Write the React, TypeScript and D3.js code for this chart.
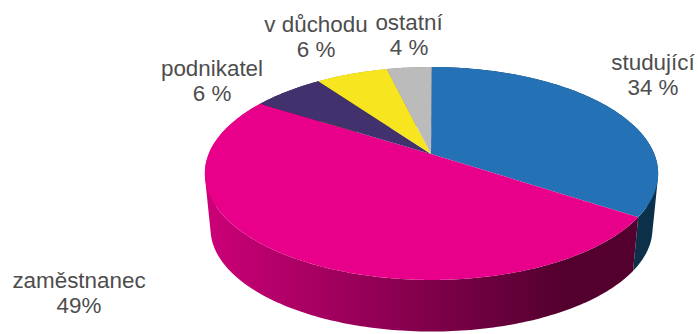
import React from "react";
import * as d3 from "d3";

const categories = ["studující", "zaměstnanec", "podnikatel", "v důchodu", "ostatní"];
const shares = [34.3, 49.7, 6.1, 6.1, 3.8];
const shareLabels = ["34 %", "49%", "6 %", "6 %", "4 %"];
const topColors = ["#2472b5", "#e8008a", "#41326e", "#f7e61f", "#bbbbbb"];
const wallLeftColors = ["#1a4f78", "#cc0078", "#2c2250", "#a89c10", "#808080"];
const wallRightColors = ["#0c2f4a", "#54002f", "#2c2250", "#a89c10", "#808080"];
const labelCentersX = [653, 79, 212, 316, 409];
const labelBaselinesY = [70, 288, 76, 32, 30];

const W = 698, H = 334;
const apex = { x: 431, y: 154 };
const k = -0.183, a = 102.9, b = 222.8;
const wallScaleX = 0.975, wallScaleY = 0.965;
const wallApexY = 210;

function project(angle: number, sx: number, sy: number, ay: number): [number, number] {
  const u = Math.sin(angle), v = -Math.cos(angle);
  const d = 1 + k * v;
  return [apex.x + 0.5 + (sx * b * u) / d, ay + (sy * a * v) / d];
}

export default function App() {
  const pie = d3.pie<number>().sort(null).startAngle(0).endAngle(2 * Math.PI);
  const arcs = pie(shares);
  const line = d3.line<[number, number]>();
  const step = Math.PI / 180;

  const walls = arcs.map((s) => {
    const angles = [...d3.range(s.startAngle, s.endAngle, step), s.endAngle];
    return d3.pairs(angles).map(([t0, t1]) => {
      const quad: [number, number][] = [
        project(t0, 1, 1, apex.y),
        project(t1, 1, 1, apex.y),
        project(t1, wallScaleX, wallScaleY, wallApexY),
        project(t0, wallScaleX, wallScaleY, wallApexY),
      ];
      if (d3.polygonArea(quad) < 0) quad.reverse();
      return line(quad)! + "Z";
    }).join("");
  });

  const faces = arcs.map((s) => {
    const angles = [...d3.range(s.startAngle, s.endAngle, step / 2), s.endAngle];
    return line([[apex.x, apex.y], ...angles.map((t) => project(t, 1, 1, apex.y))])! + "Z";
  });

  return (
    <svg width={W} height={H} viewBox={`0 0 ${W} ${H}`}
      style={{ position: "absolute", left: 0, top: 0, background: "#fff" }}>
      <defs>
        {categories.map((c, i) => (
          <linearGradient key={c} id={`wall-${i}`} gradientUnits="userSpaceOnUse" x1={205} x2={560} y1={0} y2={0}>
            <stop offset="0" stopColor={wallLeftColors[i]} />
            <stop offset="1" stopColor={wallRightColors[i]} />
          </linearGradient>
        ))}
      </defs>
      <g>
        {walls.map((d, i) => (
          <path key={categories[i]} d={d} fill={`url(#wall-${i})`} />
        ))}
      </g>
      <g>
        {faces.map((d, i) => (
          <path key={categories[i]} d={d} fill={topColors[i]} />
        ))}
      </g>
      <g fontFamily="'Liberation Sans', Arial, sans-serif" fontSize={22.4} fill="#4d4d4d" textAnchor="middle">
        {categories.map((c, i) => (
          <text key={c} x={labelCentersX[i]} y={labelBaselinesY[i]}>
            <tspan x={labelCentersX[i]}>{c}</tspan>
            <tspan x={labelCentersX[i]} dy={25}>{shareLabels[i]}</tspan>
          </text>
        ))}
      </g>
    </svg>
  );
}
